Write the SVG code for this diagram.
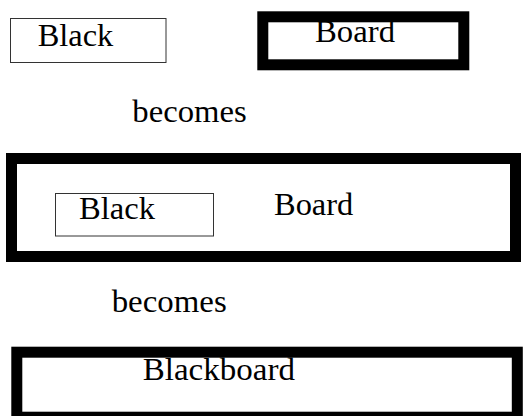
<svg xmlns="http://www.w3.org/2000/svg" width="524" height="416" viewBox="0 0 524 416">
  <style>
    .thin { fill: none; stroke: #333; stroke-width: 1; }
    .thick { fill: none; stroke: #000; stroke-width: 11; }
    text { font-family: "Liberation Serif", "Times New Roman", serif; font-size: 31px; fill: #000; }
  </style>
  <rect width="524" height="416" fill="#fff"/>

  <!-- first stage: two separate words -->
  <g id="black-1">
    <rect class="thin" x="10.5" y="18.5" width="155.5" height="44"/>
    <text x="37.7" y="45.7" textLength="75.6" lengthAdjust="spacingAndGlyphs">Black</text>
  </g>
  <g id="board-1">
    <rect class="thick" x="262.8" y="16.8" width="201" height="48"/>
    <text x="315" y="42.3" textLength="80" lengthAdjust="spacingAndGlyphs">Board</text>
  </g>

  <g id="becomes-1">
    <text x="132.3" y="121.7" textLength="114.4" lengthAdjust="spacingAndGlyphs">becomes</text>
  </g>

  <!-- second stage: Black nested inside Board -->
  <g id="board-2">
    <rect class="thick" x="11.5" y="158.5" width="504" height="98"/>
    <text x="274" y="215" textLength="79.3" lengthAdjust="spacingAndGlyphs">Board</text>
  </g>
  <g id="black-2">
    <rect class="thin" x="55.5" y="193.5" width="158" height="42.5"/>
    <text x="79" y="219" textLength="76" lengthAdjust="spacingAndGlyphs">Black</text>
  </g>

  <g id="becomes-2">
    <text x="111.7" y="311.7" textLength="115" lengthAdjust="spacingAndGlyphs">becomes</text>
  </g>

  <!-- third stage: merged word -->
  <g id="blackboard">
    <rect class="thick" x="16.8" y="352.2" width="500.5" height="65"/>
    <text x="142.7" y="380" textLength="152.3" lengthAdjust="spacingAndGlyphs">Blackboard</text>
  </g>

  <g id="connectors"></g>
</svg>
